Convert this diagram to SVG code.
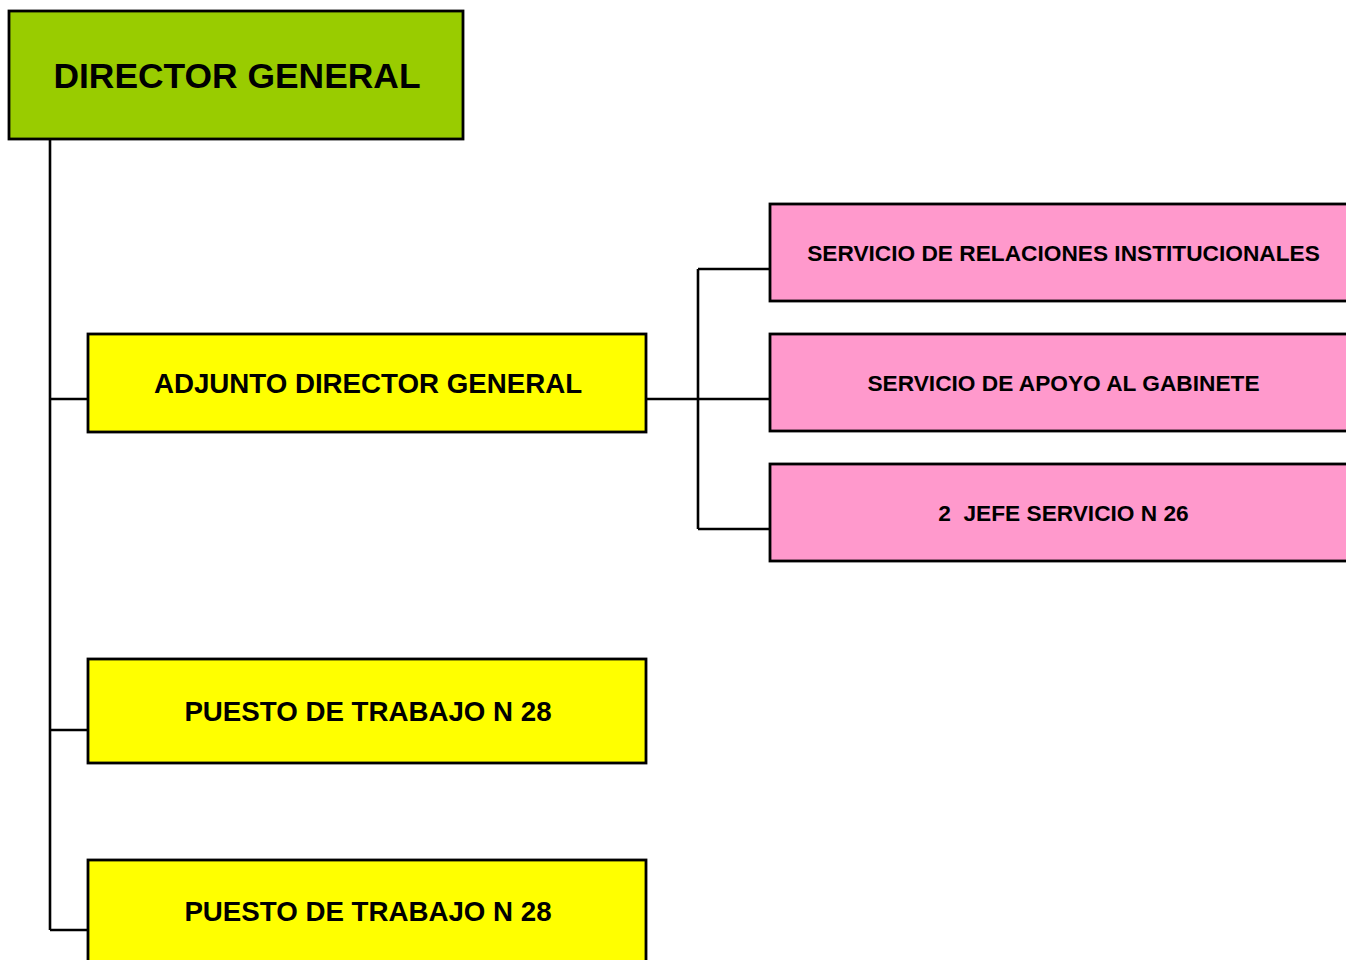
<svg xmlns="http://www.w3.org/2000/svg" width="1346" height="960" viewBox="0 0 1346 960">
<style>
.box{stroke:#000;stroke-width:2.8}
.green{fill:#99CC00}
.yellow{fill:#FFFF00}
.pink{fill:#FF99CC}
text{font-family:"Liberation Sans",Arial,sans-serif;font-weight:bold;fill:#000;text-anchor:middle}
.conn{fill:none;stroke:#000;stroke-width:2.6}
</style>
<rect width="1346" height="960" fill="#fff"/>
<g id="connectors">
<path class="conn" d="M50 139 V930 M50 399 H88 M50 730 H88 M50 930 H88"/>
<path class="conn" d="M646 399 H770 M698 269 V529 M698 269 H770 M698 529 H770"/>
</g>
<g id="director-general">
<rect class="box green" x="9" y="11" width="454" height="128"/>
<text x="237" y="88" font-size="35.4">DIRECTOR GENERAL</text>
</g>
<g id="adjunto-director-general">
<rect class="box yellow" x="88" y="334" width="558" height="98"/>
<text x="368" y="393" font-size="27.7">ADJUNTO DIRECTOR GENERAL</text>
</g>
<g id="puesto-1">
<rect class="box yellow" x="88" y="659" width="558" height="104"/>
<text x="368" y="721" font-size="27.7">PUESTO DE TRABAJO N 28</text>
</g>
<g id="puesto-2">
<rect class="box yellow" x="88" y="860" width="558" height="110"/>
<text x="368" y="921" font-size="27.7">PUESTO DE TRABAJO N 28</text>
</g>
<g id="servicio-relaciones">
<rect class="box pink" x="770" y="204" width="590" height="97"/>
<text x="1063.5" y="261" font-size="22.7">SERVICIO DE RELACIONES INSTITUCIONALES</text>
</g>
<g id="servicio-apoyo">
<rect class="box pink" x="770" y="334" width="590" height="97"/>
<text x="1063.5" y="391" font-size="22.7">SERVICIO DE APOYO AL GABINETE</text>
</g>
<g id="jefe-servicio">
<rect class="box pink" x="770" y="464" width="590" height="97"/>
<text x="1063.5" y="521" font-size="22.7" xml:space="preserve">2  JEFE SERVICIO N 26</text>
</g>
</svg>
